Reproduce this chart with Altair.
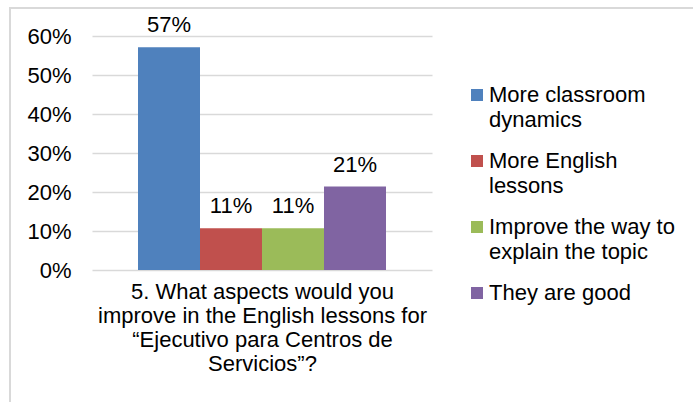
import altair as alt
import pandas as pd

categories = ["More classroom dynamics", "More English lessons",
              "Improve the way to explain the topic", "They are good"]
legend_labels = ["More classroom|dynamics", "More English|lessons",
                 "Improve the way to|explain the topic", "They are good"]
shares = [0.571, 0.107, 0.107, 0.214]
colors = ["#4f81bd", "#c0504d", "#9bbb59", "#8064a2"]
question = ["5. What aspects would you", "improve in the English lessons for",
            "\u201cEjecutivo para Centros de", "Servicios\u201d?"]
y_ticks = [0, 0.1, 0.2, 0.3, 0.4, 0.5, 0.6]

df = pd.DataFrame({"cat": legend_labels, "name": categories, "share": shares})
FONT = "Liberation Sans"
FS = 22

x = alt.X("cat:N", sort=legend_labels,
          scale=alt.Scale(paddingInner=0, paddingOuter=0.742),
          axis=alt.Axis(title=question, labels=False, ticks=False, domain=False, grid=False,
                        titleFontSize=FS, titleFontWeight="normal", titleColor="#000",
                        titlePadding=11, titleLineHeight=24, titleFont=FONT))
y = alt.Y("share:Q", scale=alt.Scale(domain=[0, 0.6]),
          axis=alt.Axis(values=y_ticks, format=".0%", title=None, domain=False, ticks=False,
                        labelPadding=21, labelFontSize=FS, labelColor="#000", labelFont=FONT,
                        labelOverlap=False, labelFlush=False,
                        gridColor="#d9d9d9", gridWidth=1.5))

base = alt.Chart(df).encode(x=x, y=y)
bars = base.mark_bar().encode(
    color=alt.Color("cat:N", sort=legend_labels,
                    scale=alt.Scale(domain=legend_labels, range=colors),
                    legend=alt.Legend(title=None, orient="none", legendX=374, legendY=48,
                                      symbolType="square", symbolSize=144, symbolStrokeWidth=0,
                                      labelFontSize=FS, labelFont=FONT, labelColor="#000",
                                      labelLimit=400, labelOffset=1, rowPadding=19,
                                      labelExpr="split(datum.label, '|')"))
)
labels = base.mark_text(dy=-15, baseline="alphabetic", fontSize=FS, font=FONT, color="#000").encode(
    text=alt.Text("share:Q", format=".0%")
)

frame = alt.Chart(pd.DataFrame({"k": [0]})).mark_rect(
    fill="transparent", stroke="#d9d9d9", strokeWidth=2
).encode(x=alt.value(-82), x2=alt.value(700), y=alt.value(-28), y2=alt.value(500))

chart = alt.layer(bars, labels, frame).properties(
    width=340, height=234,
    view=alt.ViewBackground(strokeOpacity=0, fillOpacity=0),
    autosize=alt.AutoSizeParams(type="none"),
    padding={"left": 92, "top": 36, "right": 261, "bottom": 132},
).configure(
    font=FONT,
    style={"guide-label": {"lineHeight": 25}},
).configure_view(stroke=None, strokeOpacity=0).configure_axisX(grid=False, domain=False)

chart.save("out.html", embed_options={"renderer": "svg", "actions": False})
